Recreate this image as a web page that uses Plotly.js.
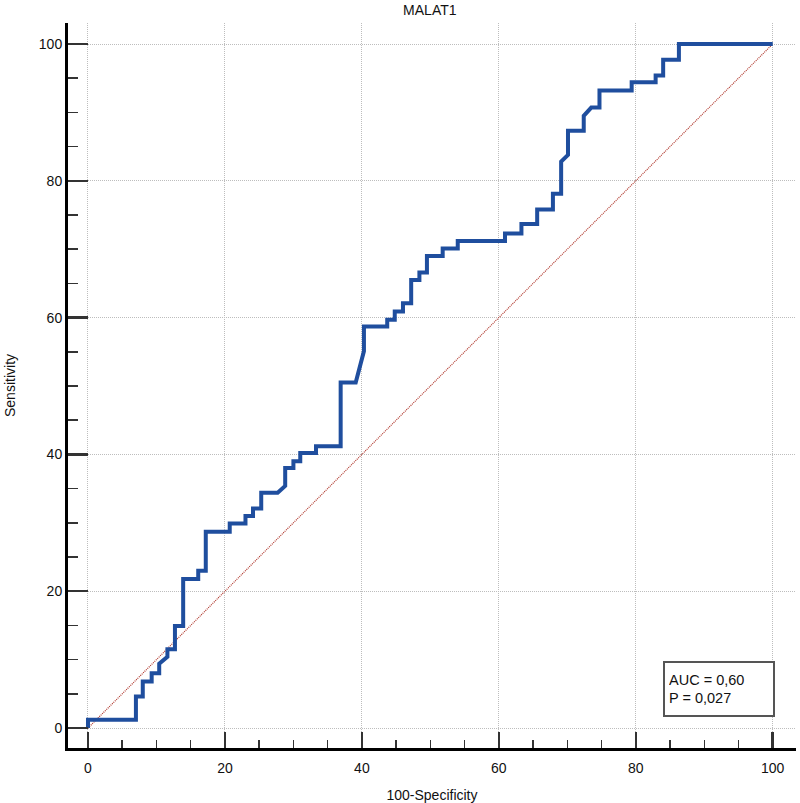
<!DOCTYPE html>
<html>
<head>
<meta charset="utf-8">
<script src="https://cdn.plot.ly/plotly-3.0.1.min.js"></script>
<style>html,body{margin:0;padding:0;background:#fff;}#chart{width:800px;height:803px;}</style>
</head>
<body>
<div id="chart"></div>
<script>
// ROC curve vertices (100-Specificity, Sensitivity)
const fpr = [0,0,7.0,7.0,8.0,8.0,9.3,9.3,10.4,10.4,11.6,11.6,12.7,12.7,13.9,13.9,16.1,16.1,17.2,17.2,20.7,20.7,23.0,23.0,24.1,24.1,25.3,25.3,27.7,28.8,28.8,30.0,30.0,31.0,31.0,33.3,33.3,36.9,36.9,39.1,40.3,40.3,43.7,43.7,44.8,44.8,46.0,46.0,47.2,47.2,48.4,48.4,49.5,49.5,51.8,51.8,54.0,54.0,60.9,60.9,63.3,63.3,65.6,65.6,67.9,67.9,69.1,69.1,70.1,70.1,72.4,72.4,73.5,74.7,74.7,79.4,79.4,82.9,82.9,84.0,84.0,86.3,86.3,100];
const tpr = [0,1.2,1.2,4.6,4.6,6.8,6.8,8.0,8.0,9.4,10.4,11.5,11.5,14.9,14.9,21.8,21.8,23.0,23.0,28.7,28.7,29.9,29.9,31.0,31.0,32.1,32.1,34.4,34.4,35.4,38.0,38.0,39.0,39.0,40.2,40.2,41.2,41.2,50.5,50.5,55.1,58.7,58.7,59.7,59.7,60.9,60.9,62.1,62.1,65.5,65.5,66.6,66.6,69.0,69.0,70.1,70.1,71.2,71.2,72.3,72.3,73.7,73.7,75.8,75.8,78.1,78.1,82.8,83.8,87.3,87.3,89.5,90.7,90.7,93.2,93.2,94.4,94.4,95.4,95.4,97.7,97.7,100,100];
const diagX = [0,100];
const diagY = [0,100];
const titleText = 'MALAT1';
const xTitle = '100-Specificity';
const yTitle = 'Sensitivity';
const statsText = 'AUC = 0,60<br>P = 0,027';

const FONT = 'Liberation Sans, Arial, sans-serif';

const traces = [
  {x: diagX, y: diagY, mode: 'lines', line: {color: '#b0392e', width: 1.2, dash: '1px,1px'}, hoverinfo: 'skip'},
  {x: fpr, y: tpr, mode: 'lines', line: {color: '#1f4e9e', width: 4, shape: 'linear'}, hoverinfo: 'skip'}
];

const axisCommon = {
  tickmode: 'linear', tick0: 0, dtick: 20,
  ticks: 'inside', tickwidth: 2.5, tickcolor: '#333',
  showline: true, linewidth: 3, linecolor: '#000',
  showgrid: true, gridcolor: '#bdbdbd', griddash: '1px,1px', gridwidth: 1,
  zeroline: false,
  tickfont: {family: FONT, size: 14, color: '#111'},
  fixedrange: true
};

const layout = {
  width: 800, height: 803,
  margin: {l: 68, r: 4, t: 23, b: 55},
  paper_bgcolor: '#fff', plot_bgcolor: '#fff',
  showlegend: false,
  font: {family: FONT, color: '#111'},
  title: {text: titleText, font: {family: FONT, size: 14, color: '#111'}, xref: 'paper', x: 0.497, xanchor: 'center', yref: 'container', y: 0.988, yanchor: 'middle'},
  xaxis: Object.assign({}, axisCommon, {
    range: [-2.92, 103.4], ticklen: 16, ticklabelstandoff: 5,
    minor: {dtick: 5, ticks: 'inside', ticklen: 8, tickwidth: 1.5, tickcolor: '#333', showgrid: false},
    title: {text: xTitle, font: {family: FONT, size: 14, color: '#111'}, standoff: 16}
  }),
  yaxis: Object.assign({}, axisCommon, {
    range: [-2.92, 103.07], ticklen: 20,
    minor: {dtick: 5, ticks: 'inside', ticklen: 10, tickwidth: 1.5, tickcolor: '#333', showgrid: false},
    title: {text: yTitle, font: {family: FONT, size: 14, color: '#111'}, standoff: 20}
  }),
  annotations: [{
    text: statsText, xref: 'paper', yref: 'paper', x: 0.971, y: 0.043,
    xanchor: 'right', yanchor: 'bottom', showarrow: false, align: 'left', valign: 'middle',
    width: 100, height: 44, borderpad: 4, bordercolor: '#555', borderwidth: 2, bgcolor: '#fff',
    font: {family: FONT, size: 14.5, color: '#111'}
  }]
};

Plotly.newPlot('chart', traces, layout, {displayModeBar: false, staticPlot: true});
</script>
</body>
</html>
